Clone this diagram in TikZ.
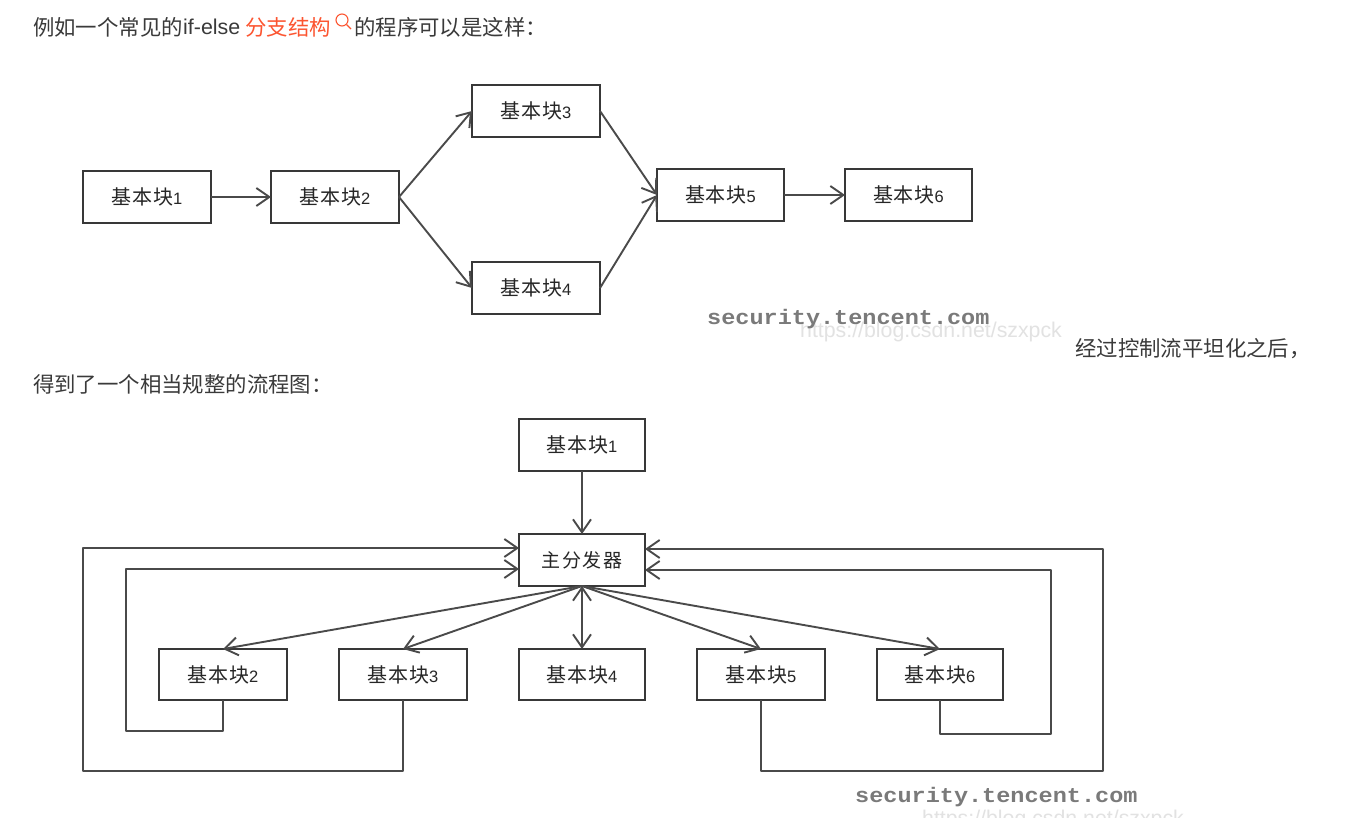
\documentclass[tikz,border=0pt]{standalone}
\usepackage{fontspec}
\usetikzlibrary{arrows.meta,calc}
\setmainfont{Liberation Sans}
\newfontfamily\cjk{Noto Sans CJK SC}
\newfontfamily\cjkbox[LetterSpace=4]{Noto Sans CJK SC}
\newfontfamily\cjkwide[LetterSpace=9]{Noto Sans CJK SC}
\newfontfamily\wmfont{Liberation Mono}
\definecolor{bodytext}{HTML}{3A3A3A}
\definecolor{linkred}{HTML}{FC5531}
\definecolor{boxline}{HTML}{383838}
\definecolor{arrline}{HTML}{4A4A4A}
\definecolor{wmgray}{HTML}{7A7A7A}
\definecolor{csdngray}{HTML}{E2E2E2}
\newcommand{\bk}[1]{\raisebox{1pt}{{\cjkbox\fontsize{20}{22}\selectfont 基本块}{\fontsize{16.5}{22}\selectfont #1}}}
\tikzset{
  x=1pt,y=-1pt,
  blockbox/.style={draw=boxline,line width=1.7pt,fill=white,minimum width=128pt,minimum height=52pt,inner sep=0pt,outer sep=0pt,text=black!85,anchor=north west},
  narrowbox/.style={blockbox,minimum width=126pt},
  arr/.style={draw=arrline,line width=1.9pt,-{Straight Barb[length=13pt,width=18pt,line width=1.9pt]}},
  biarr/.style={draw=arrline,line width=1.9pt,{Straight Barb[length=13pt,width=18pt,line width=1.9pt]}-{Straight Barb[length=13pt,width=18pt,line width=1.9pt]}},
  para/.style={anchor=west,inner sep=0pt,text=bodytext,font=\cjk\fontsize{21.4}{24}\selectfont},
  latin/.style={anchor=west,inner sep=0pt,text=bodytext,font=\fontsize{21.4}{24}\selectfont},
  wm/.style={anchor=west,inner sep=0pt,text=wmgray,font=\wmfont\bfseries\fontsize{21}{24}\selectfont,xscale=1.12},
  csdn/.style={anchor=west,inner sep=0pt,text=csdngray,font=\fontsize{21.3}{24}\selectfont},
}
\begin{document}
\begin{tikzpicture}
\useasboundingbox (0,0) rectangle (1349,818);
\clip (0,0) rectangle (1349,818);
\fill[white] (0,0) rectangle (1349,818);

% paragraph text
\node[para] (t1) at (33,27) {例如一个常见的};
\node[latin] (t2) at (183,27) {if-else};
\node[para,text=linkred] (t3) at (245,27) {分支结构};
\draw[linkred,line width=1.1pt] (342,20) circle (6pt);
\draw[linkred,line width=1.1pt] (346.5,24.5) -- (351,29);
\node[para] (t4) at (354,27) {的程序可以是这样：};
\node[para] (t5) at (1075,349) {经过控制流平坦化之后，};
\node[para] (t6) at (33,384) {得到了一个相当规整的流程图：};

% watermarks
\node[csdn] (w2) at (800,332) {https://blog.csdn.net/szxpck};
\node[csdn] (w4) at (922,820) {https://blog.csdn.net/szxpck};
\node[wm] (w1) at (707,319) {security.tencent.com};
\node[wm] (w3) at (855,797) {security.tencent.com};

% upper diagram
\node[blockbox] (b1) at (83,171) {\bk{1}};
\node[blockbox] (b2) at (271,171) {\bk{2}};
\node[blockbox] (b3) at (472,85) {\bk{3}};
\node[blockbox] (b4) at (472,262) {\bk{4}};
\node[blockbox,minimum width=127pt] (b5) at (657,169) {\bk{5}};
\node[blockbox,minimum width=127pt] (b6) at (845,169) {\bk{6}};
\draw[arr] (b1) -- (b2);
\draw[arr] (b2.east) -- (b3.west);
\draw[arr] (b2.east) -- (b4.west);
\draw[arr] (b3.east) -- (b5.west);
\draw[arr] (b4.east) -- (b5.west);
\draw[arr] (b5) -- (b6);

% lower diagram
\node[narrowbox] (c1) at (519,419) {\bk{1}};
\node[narrowbox] (d) at (519,534) {\raisebox{1pt}{\cjkwide\fontsize{19}{22}\selectfont 主分发器}};
\node[blockbox,minimum height=51pt] (c2) at (159,649) {\bk{2}};
\node[blockbox,minimum height=51pt] (c3) at (339,649) {\bk{3}};
\node[narrowbox,minimum height=51pt] (c4) at (519,649) {\bk{4}};
\node[blockbox,minimum height=51pt] (c5) at (697,649) {\bk{5}};
\node[narrowbox,minimum height=51pt] (c6) at (877,649) {\bk{6}};
\draw[arr] (c1) -- (d);
\draw[arr] (d.south) -- (c2.north);
\draw[arr] (d.south) -- (c3.north);
\draw[biarr] (d.south) -- (c4.north);
\draw[arr] (d.south) -- (c5.north);
\draw[arr] (d.south) -- (c6.north);

% return rails
\coordinate (l2) at (126,731);
\coordinate (l3) at (83,771);
\coordinate (l5) at (1103,771);
\coordinate (l6) at (1051,734);
\coordinate (dw1) at ($(d.north west)+(0,14)$);
\coordinate (dw2) at ($(d.north west)+(0,35)$);
\coordinate (de1) at ($(d.north east)+(0,15)$);
\coordinate (de2) at ($(d.north east)+(0,36)$);
\draw[arr,line join=round] (c2.south) |- (l2) |- (dw2);
\draw[arr,line join=round] (c3.south) |- (l3) |- (dw1);
\draw[arr,line join=round] (c5.south) |- (l5) |- (de1);
\draw[arr,line join=round] (c6.south) |- (l6) |- (de2);
\end{tikzpicture}
\end{document}
